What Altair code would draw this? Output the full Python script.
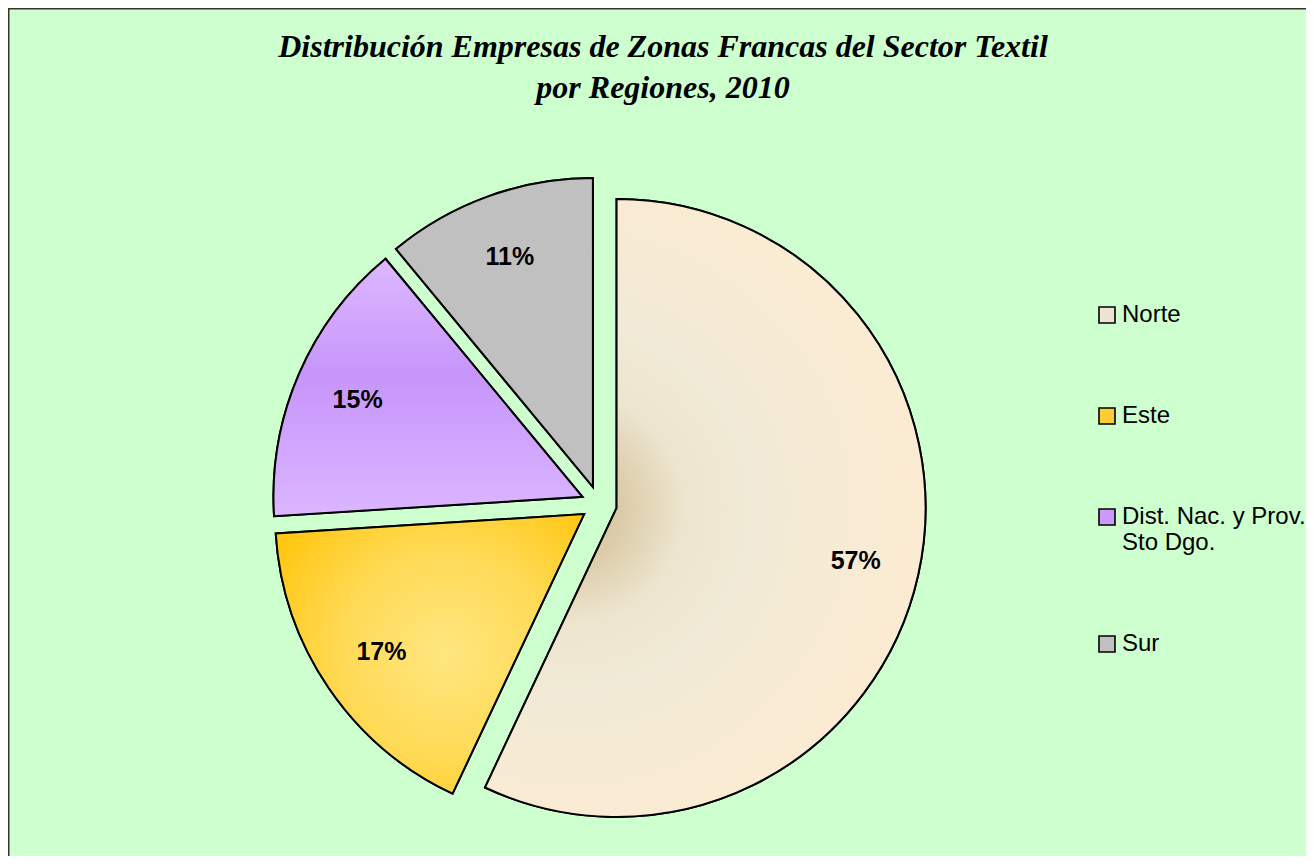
import altair as alt
import pandas as pd

# ---- data ----
regions = ["Norte", "Este", "Dist. Nac. y Prov. Sto Dgo.", "Sur"]
values = [57, 17, 15, 11]
legend_colors = ["#EEE4D2", "#FFCC33", "#CC99FF", "#C0C0C0"]
title_lines = ["Distribución Empresas de Zonas Francas del Sector Textil",
               "por Regiones, 2010"]

# ---- layout (view coordinates) ----
W, H = 1298, 848
CX, CY = 591, 496
R = 309
EXP = 18
LR = 245

df = pd.DataFrame({"region": regions, "value": values, "order": list(range(len(regions)))})

gradients = {
    "Norte": {
        "gradient": "radial", "x1": 0.28, "y1": 0.5, "r1": 0, "x2": 0.28, "y2": 0.5, "r2": 0.75,
        "stops": [
            {"offset": 0, "color": "#D3C29C"},
            {"offset": 0.12, "color": "#DCCDAA"},
            {"offset": 0.25, "color": "#EDE5CF"},
            {"offset": 0.4, "color": "#F1EAD6"},
            {"offset": 0.6, "color": "#F8EBD4"},
            {"offset": 0.8, "color": "#FCEBD2"},
            {"offset": 1, "color": "#FDEBD0"},
        ],
    },
    "Este": {
        "gradient": "radial", "x1": 0.55, "y1": 0.5, "r1": 0, "x2": 0.55, "y2": 0.5, "r2": 0.62,
        "stops": [
            {"offset": 0, "color": "#FFE680"},
            {"offset": 0.55, "color": "#FFDA55"},
            {"offset": 1, "color": "#FFC815"},
        ],
    },
    "Dist. Nac. y Prov. Sto Dgo.": {
        "gradient": "linear", "x1": 0, "y1": 0, "x2": 0, "y2": 1,
        "stops": [
            {"offset": 0, "color": "#DDB9FF"},
            {"offset": 0.45, "color": "#C795FB"},
            {"offset": 1, "color": "#DBB6FF"},
        ],
    },
    "Sur": {
        "gradient": "linear", "x1": 0, "y1": 0, "x2": 0, "y2": 1,
        "stops": [
            {"offset": 0, "color": "#C0C0C0"},
            {"offset": 1, "color": "#C0C0C0"},
        ],
    },
}

base = (
    alt.Chart(df)
    .transform_joinaggregate(total="sum(value)")
    .transform_window(cum="sum(value)", sort=[alt.SortField("order")], frame=[None, 0])
    .transform_calculate(t0="2*PI*(datum.cum-datum.value)/datum.total")
    .transform_calculate(t1="2*PI*datum.cum/datum.total")
    .transform_calculate(mid="(datum.t0+datum.t1)/2")
    .transform_calculate(cx=f"{CX}+{EXP}*sin(datum.mid)")
    .transform_calculate(cy=f"{CY}-{EXP}*cos(datum.mid)")
    .transform_calculate(lx=f"{CX}+{EXP + LR}*sin(datum.mid)")
    .transform_calculate(ly=f"{CY}-{EXP + LR}*cos(datum.mid)")
    .transform_calculate(label="datum.value + '%'")
)

arc_enc = dict(
    x=alt.X("cx:Q", scale=None, axis=None),
    y=alt.Y("cy:Q", scale=None, axis=None),
    theta=alt.Theta("t0:Q", scale=None, stack=None),
    theta2=alt.Theta2("t1:Q"),
)

legend_arcs = base.mark_arc(radius=R, stroke="black", strokeWidth=2).encode(
    color=alt.Color(
        "region:N",
        scale=alt.Scale(domain=regions, range=legend_colors),
        sort=regions,
        legend=alt.Legend(
            title=None,
            orient="none",
            legendX=1087,
            legendY=295,
            symbolType="square",
            symbolSize=256,
            symbolStrokeColor="black",
            symbolStrokeWidth=1.6,
            symbolOpacity=1,
            labelFont="Liberation Sans",
            labelFontSize=24,
            labelColor="black",
            labelLimit=400,
            labelOffset=3,
            rowPadding=77,
            labelExpr="datum.label == 'Dist. Nac. y Prov. Sto Dgo.' ? ['Dist. Nac. y Prov.', 'Sto Dgo.'] : datum.label",
        ),
    ),
    **arc_enc,
)

overlays = [
    base.transform_filter(alt.datum.region == reg)
    .mark_arc(radius=R, stroke="black", strokeWidth=2, fill=gradients[reg])
    .encode(**arc_enc)
    for reg in regions
]

labels = base.mark_text(
    font="Liberation Sans", fontSize=25, fontWeight="bold", color="black",
    align="center", baseline="middle",
).encode(
    x=alt.X("lx:Q", scale=None, axis=None),
    y=alt.Y("ly:Q", scale=None, axis=None),
    text="label:N",
)

title = alt.Chart(pd.DataFrame({"t": [title_lines]})).mark_text(
    font="Liberation Serif", fontSize=32, fontStyle="italic", fontWeight="bold",
    color="black", align="center", baseline="alphabetic", lineHeight=41,
).encode(x=alt.value(655), y=alt.value(49), text="t")

frame_df = pd.DataFrame({"k": [0]})
left_border = alt.Chart(frame_df).mark_rule(color="#333333", strokeWidth=1.5).encode(
    x=alt.value(0.75), y=alt.value(0), y2=alt.value(H)
)
top_border = alt.Chart(frame_df).mark_rule(color="#333333", strokeWidth=1.5).encode(
    x=alt.value(0), x2=alt.value(W), y=alt.value(0.75)
)

chart = (
    alt.layer(legend_arcs, *overlays, labels, title, left_border, top_border)
    .properties(width=W, height=H, padding=0, autosize=alt.AutoSizeParams(type="none"))
    .configure(background="#CEFFCE")
    .configure_view(fill="#CEFFCE", stroke=None)
)

chart.save("out.html", embed_options={"renderer": "svg", "actions": False})
